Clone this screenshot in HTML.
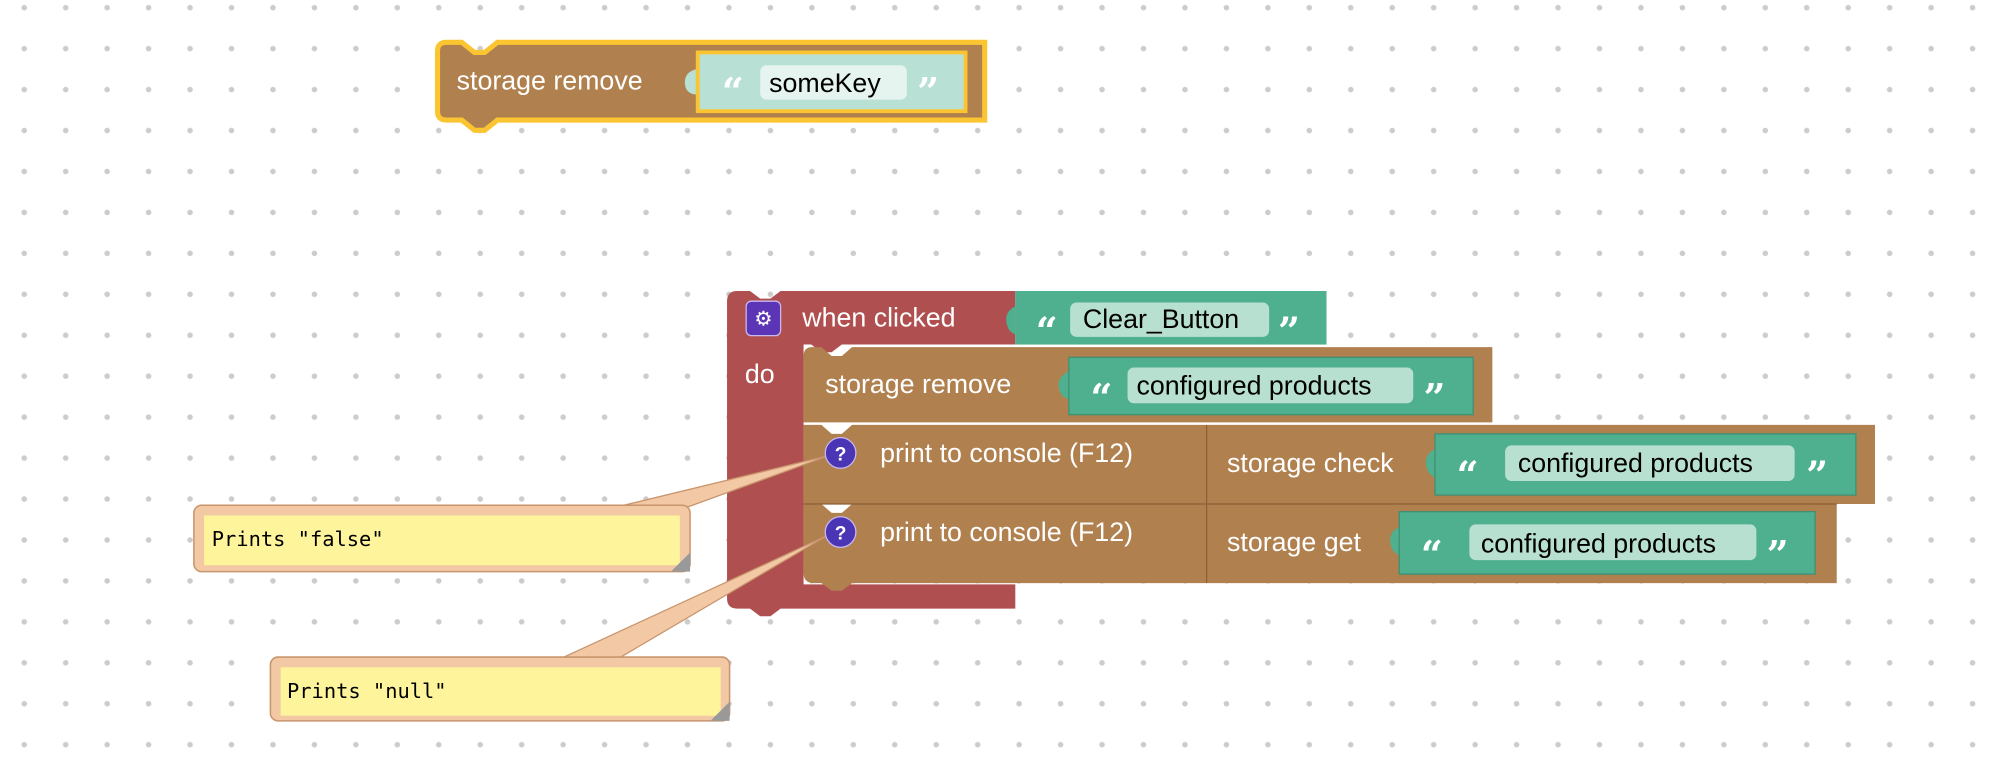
<!DOCTYPE html>
<html><head><meta charset="utf-8"><style>
html,body{margin:0;padding:0;background:#fff;width:2000px;height:758px;overflow:hidden}
svg{display:block}
.w{font-family:"Liberation Sans",sans-serif;font-size:21px;fill:#fff}
.b{font-family:"Liberation Sans",sans-serif;font-size:21px;fill:#000}
.q{font-family:"DejaVu Serif","Liberation Serif",serif;font-size:30px;font-weight:bold;fill:#fff}
.m{font-family:"DejaVu Sans Mono","Liberation Mono",monospace;font-size:16px;fill:#000}
</style></head><body>
<svg width="2000" height="758" viewBox="0 0 1568 594" xmlns="http://www.w3.org/2000/svg">
<defs><pattern id="d" x="3" y="22" width="32.5" height="32.1" patternUnits="userSpaceOnUse"><circle cx="16" cy="16" r="2.2" fill="#ccc"/></pattern></defs>
<rect width="1568" height="594" fill="#fff"/>
<rect width="1568" height="594" fill="url(#d)"/>

<!-- top block -->
<path d="M350,33 H362 L372,41 H380 L390,33 H772 V94 H390 L380,102 H372 L362,94 H350 Q343,94 343,87 V40 Q343,33 350,33Z" fill="#b0804f" stroke="#fbc531" stroke-width="4"/>
<text class="w" x="358" y="70">storage remove</text>
<path d="M547,54 Q536,56 537,66 Q538,74 547,74 Z" fill="#b8e0d4"/>
<rect x="547" y="41" width="210" height="46" fill="#b8e0d4" stroke="#fbc531" stroke-width="3"/>
<text class="q" x="566" y="82">“</text>
<rect x="596" y="51" width="115" height="27" rx="5" fill="#e6f4ef"/>
<text class="b" x="603" y="72">someKey</text>
<text class="q" x="719" y="82">”</text>

<!-- red event block -->
<path d="M578,228 H588 L596,234 H604 L612,228 H796 V270 H660 L652,276 H644 L636,270 H630 V458 H796 V477 H612 L604,483 H596 L588,477 H578 Q570,477 570,469 V236 Q570,228 578,228Z" fill="#b04f4f"/>
<rect x="585" y="236" width="27" height="27" rx="4" fill="#5b35b5" stroke="#c8b8f0" stroke-width="1"/>
<text x="598.5" y="255" text-anchor="middle" font-family="DejaVu Sans" font-size="16" fill="#fff">⚙</text>
<text class="w" x="629" y="256">when clicked</text>
<text class="w" x="584" y="300">do</text>
<rect x="796" y="228" width="244" height="42" fill="#4fb08f"/>
<path d="M796,240 Q788,244 789,252 Q790,260 796,262Z" fill="#4fb08f"/>
<text class="q" x="812" y="270">“</text>
<rect x="839" y="237" width="156" height="27" rx="5" fill="#b8e0d0"/>
<text class="b" x="849" y="257">Clear_Button</text>
<text class="q" x="1002" y="270">”</text>

<!-- storage remove -->
<path d="M637,272 H644 L652,279 H660 L668,272 H1170 V331 H630 V279 Q630,272 637,272Z" fill="#b0804f"/>
<text class="w" x="647" y="308">storage remove</text>
<path d="M838,291 Q829,295 830,303 Q831,311 838,313Z" fill="#4fb08f"/>
<rect x="838" y="280" width="317" height="45" fill="#4fb08f" stroke="#3f8f73" stroke-width="1"/>
<text class="q" x="855" y="322">“</text>
<rect x="884" y="288" width="224" height="28" rx="5" fill="#b8e0d0"/>
<text class="b" x="891" y="309">configured products</text>
<text class="q" x="1116" y="322">”</text>

<!-- print 1 -->
<path d="M630,333 H644 L652,340 H660 L668,333 H1470 V395 H630Z" fill="#b0804f"/>
<line x1="946" y1="333" x2="946" y2="395" stroke="#8a6038" stroke-width="1"/>
<text class="w" x="690" y="362">print to console (F12)</text>
<text class="w" x="962" y="370">storage check</text>
<path d="M1125,352 Q1117,356 1118,364 Q1119,372 1125,374Z" fill="#4fb08f"/>
<rect x="1125" y="340" width="330" height="48" fill="#4fb08f" stroke="#3f8f73" stroke-width="1"/>
<text class="q" x="1142" y="383">“</text>
<rect x="1180" y="349" width="227" height="28" rx="5" fill="#b8e0d0"/>
<text class="b" x="1190" y="370">configured products</text>
<text class="q" x="1416" y="383">”</text>

<!-- print 2 -->
<path d="M630,395 H644 L652,402 H660 L668,395 H1440 V457 H668 L660,463 H652 L644,457 H638 Q630,457 630,449Z" fill="#b0804f"/>
<line x1="630" y1="395" x2="1440" y2="395" stroke="#8a6038" stroke-width="1"/>
<line x1="946" y1="395" x2="946" y2="457" stroke="#8a6038" stroke-width="1"/>
<text class="w" x="690" y="424">print to console (F12)</text>
<text class="w" x="962" y="432">storage get</text>
<path d="M1097,413 Q1089,417 1090,425 Q1091,433 1097,435Z" fill="#4fb08f"/>
<rect x="1097" y="401" width="326" height="49" fill="#4fb08f" stroke="#3f8f73" stroke-width="1"/>
<text class="q" x="1114" y="445">“</text>
<rect x="1152" y="411" width="225" height="28" rx="5" fill="#b8e0d0"/>
<text class="b" x="1161" y="433">configured products</text>
<text class="q" x="1385" y="445">”</text>

<!-- comment pointers (on top) -->
<polygon points="485,397 540,397 650,357" fill="#f2c8a5" stroke="#c8956d" stroke-width="1"/>
<polygon points="440,516 485,516 648,420" fill="#f2c8a5" stroke="#c8956d" stroke-width="1"/>

<circle cx="659" cy="355" r="12" fill="#4a35b5" stroke="#c8b8f0" stroke-width="1"/>
<text x="659" y="361" text-anchor="middle" font-family="Liberation Sans" font-weight="bold" font-size="15" fill="#fff">?</text>
<circle cx="659" cy="417" r="12" fill="#4a35b5" stroke="#c8b8f0" stroke-width="1"/>
<text x="659" y="423" text-anchor="middle" font-family="Liberation Sans" font-weight="bold" font-size="15" fill="#fff">?</text>

<!-- comments -->
<rect x="152" y="396" width="389" height="52" rx="6" fill="#f2c8a5" stroke="#c8956d" stroke-width="1.2"/>
<rect x="160" y="404" width="373" height="39" fill="#fef49c"/>
<polygon points="541,433 541,448 526,448" fill="#999"/>
<text class="m" x="166" y="428">Prints "false"</text>
<rect x="212" y="515" width="360" height="50" rx="6" fill="#f2c8a5" stroke="#c8956d" stroke-width="1.2"/>
<rect x="220" y="523" width="345" height="38" fill="#fef49c"/>
<polygon points="572,550 572,565 557,565" fill="#999"/>
<text class="m" x="225" y="547">Prints "null"</text>
</svg>
</body></html>
